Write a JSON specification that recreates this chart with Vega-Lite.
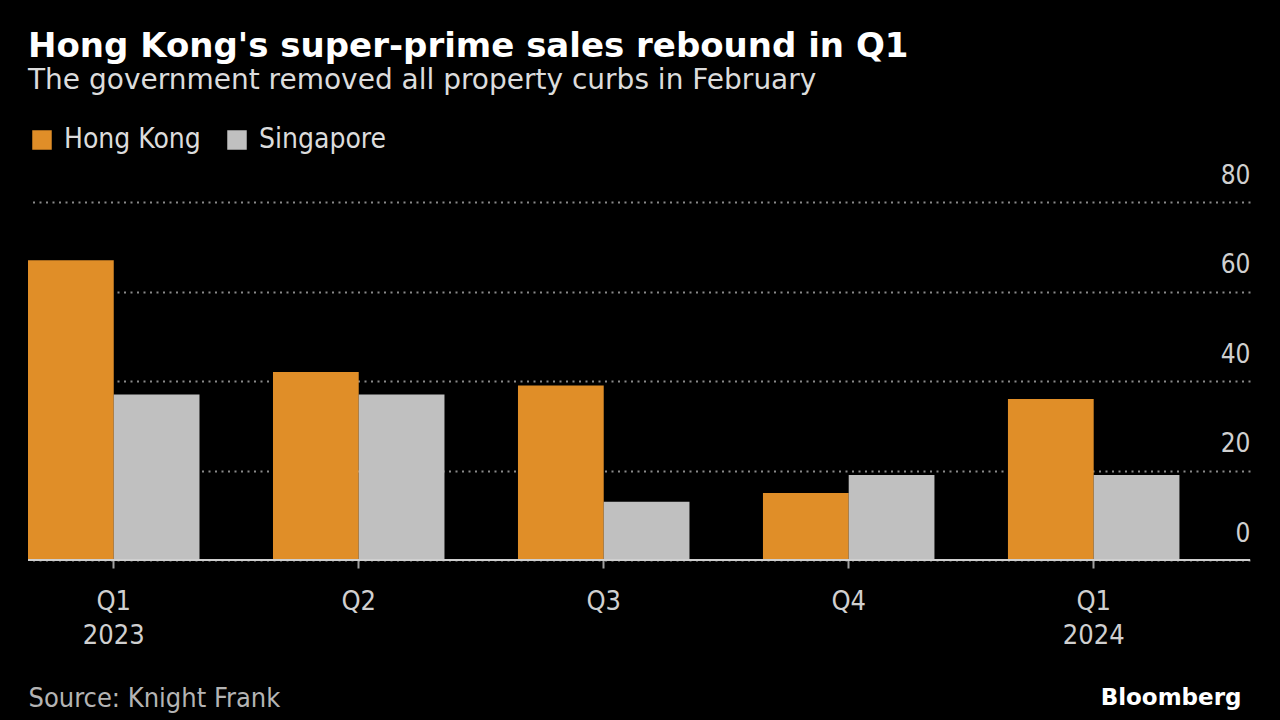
{
  "$schema": "https://vega.github.io/schema/vega-lite/v6.json",
  "autosize": "none",
  "width": 1222,
  "height": 358,
  "padding": {"left": 28, "top": 202, "right": 30, "bottom": 160},
  "background": "#000000",
  "view": {"stroke": null},
  "title": {
    "text": "Hong Kong's super-prime sales rebound in Q1",
    "subtitle": "The government removed all property curbs in February",
    "anchor": "start",
    "frame": "group",
    "offset": 31,
    "font": "DejaVu Sans",
    "fontSize": 34,
    "fontWeight": "bold",
    "color": "#ffffff",
    "subtitleFont": "DejaVu Sans",
    "subtitleFontSize": 28,
    "subtitleColor": "#dcdcdc",
    "subtitlePadding": 3
  },
  "data": {
    "values": [
      {"quarter": "Q1 2023", "market": "Hong Kong", "sales": 67},
      {"quarter": "Q1 2023", "market": "Singapore", "sales": 37},
      {"quarter": "Q2", "market": "Hong Kong", "sales": 42},
      {"quarter": "Q2", "market": "Singapore", "sales": 37},
      {"quarter": "Q3", "market": "Hong Kong", "sales": 39},
      {"quarter": "Q3", "market": "Singapore", "sales": 13},
      {"quarter": "Q4", "market": "Hong Kong", "sales": 15},
      {"quarter": "Q4", "market": "Singapore", "sales": 19},
      {"quarter": "Q1 2024", "market": "Hong Kong", "sales": 36},
      {"quarter": "Q1 2024", "market": "Singapore", "sales": 19}
    ]
  },
  "layer": [
    {
      "mark": {"type": "bar"},
      "encoding": {
        "x": {
          "field": "quarter",
          "type": "nominal",
          "sort": null,
          "scale": {"paddingInner": 0.3, "paddingOuter": 0.144, "align": 0},
          "axis": {
            "title": "Source: Knight Frank",
            "titleAnchor": "start",
            "titleAlign": "left",
            "titleX": 0,
            "titleY": 138,
            "titleBaseline": "middle",
            "titleFont": "DejaVu Sans Condensed",
            "titleFontSize": 27,
            "titleFontWeight": "normal",
            "titleColor": "#b4b4b4",
            "labelExpr": "split(datum.value, ' ')",
            "labelAngle": 0,
            "labelFont": "DejaVu Sans Condensed",
            "labelFontSize": 27,
            "labelColor": "#d0d0d0",
            "labelLineHeight": 34,
            "labelPadding": 20,
            "labelBaseline": "top",
            "domain": false,
            "ticks": true,
            "tickColor": "#a0a0a0",
            "tickSize": 8,
            "tickWidth": 2,
            "grid": false
          }
        },
        "xOffset": {
          "field": "market",
          "type": "nominal",
          "scale": {"paddingInner": 0, "paddingOuter": 0}
        },
        "y": {
          "field": "sales",
          "type": "quantitative",
          "scale": {"domain": [0, 80], "nice": false},
          "axis": {
            "orient": "right",
            "values": [0, 20, 40, 60, 80],
            "title": "Bloomberg",
            "titleAngle": 0,
            "titleAlign": "right",
            "titleBaseline": "middle",
            "titleX": -9,
            "titleY": 495,
            "titleFont": "DejaVu Sans",
            "titleFontSize": 23,
            "titleFontWeight": "bold",
            "titleColor": "#ffffff",
            "labelAlign": "right",
            "labelBaseline": "alphabetic",
            "labelOffset": -19,
            "labelPadding": 0,
            "labelFont": "DejaVu Sans Condensed",
            "labelFontSize": 26,
            "labelColor": "#d0d0d0",
            "domain": false,
            "ticks": false,
            "grid": true,
            "gridColor": "#8a8a8a",
            "gridDash": [2, 4.5],
            "gridWidth": 2
          }
        },
        "color": {
          "field": "market",
          "type": "nominal",
          "scale": {"domain": ["Hong Kong", "Singapore"], "range": ["#E08E28", "#C0C0C0"]},
          "legend": {
            "title": null,
            "orient": "none",
            "legendX": 0,
            "legendY": -76,
            "direction": "horizontal",
            "symbolType": "square",
            "symbolSize": 380,
            "symbolStrokeWidth": 0,
            "labelFont": "DejaVu Sans Condensed",
            "labelFontSize": 28,
            "labelColor": "#dcdcdc",
            "labelOffset": 8,
            "columnPadding": 22
          }
        }
      }
    },
    {
      "mark": {"type": "rule", "color": "#cfcfcf", "strokeWidth": 2},
      "encoding": {"y": {"datum": 0}}
    }
  ]
}
